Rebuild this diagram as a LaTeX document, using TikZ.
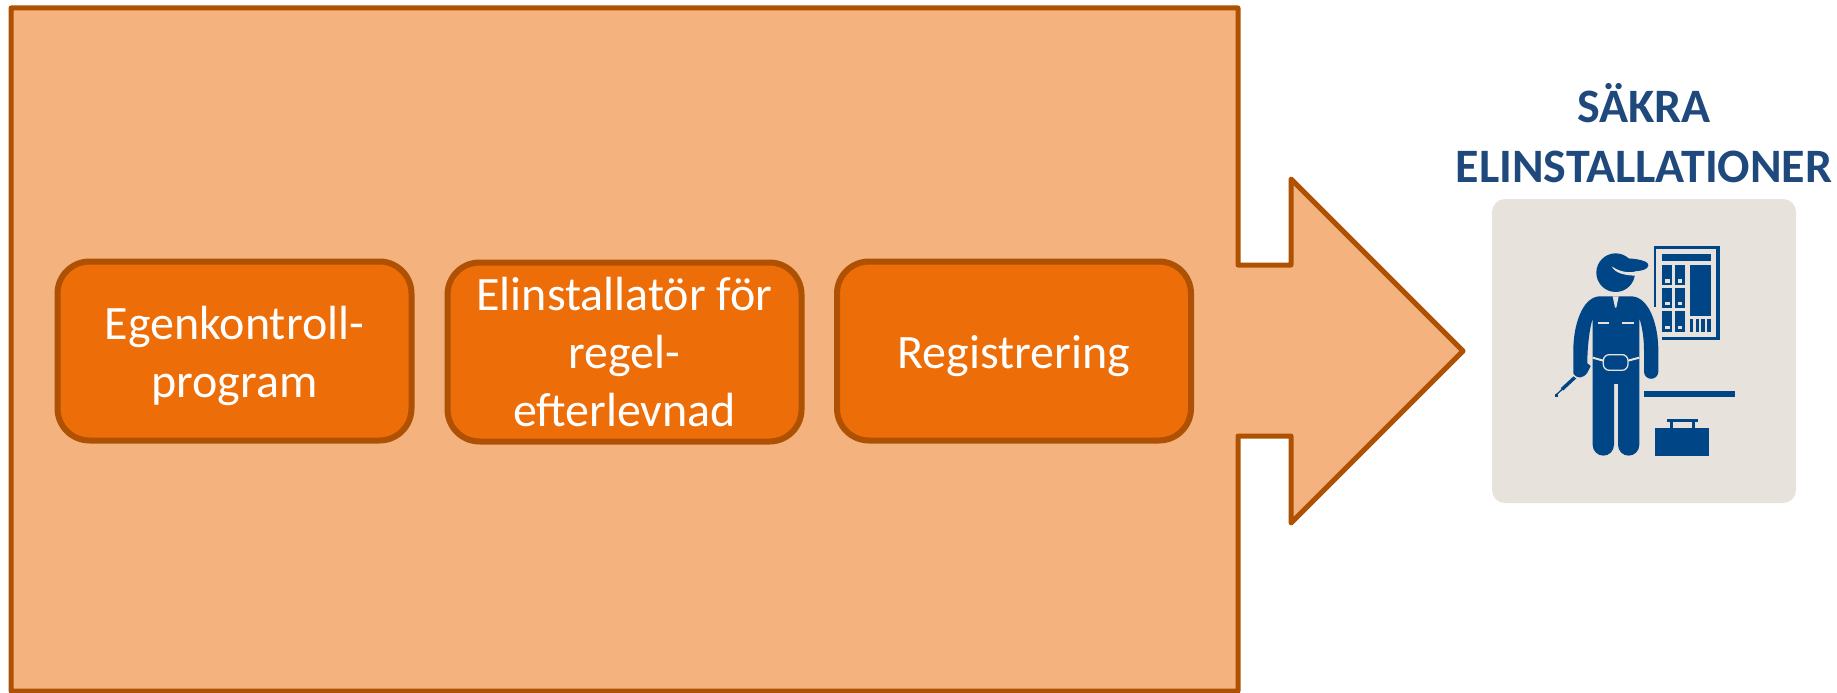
\documentclass[tikz,border=0pt]{standalone}
\usepackage{fontspec}
\setmainfont{Carlito}
\usetikzlibrary{shapes,arrows}

\definecolor{peach}{HTML}{F4B37E}
\definecolor{rust}{HTML}{AE5103}
\definecolor{flame}{HTML}{ED6D08}
\definecolor{card}{HTML}{E7E2DC}
\definecolor{navy}{HTML}{004586}
\definecolor{titleblue}{HTML}{1F497D}

% taller first line, sets the text a little lower in its box
\newcommand{\lowerline}{\rule{0pt}{44pt}}

\tikzset{
  stepbox/.style={draw=rust,fill=flame,line width=6pt,rounded corners=32pt,
    minimum width=354pt,minimum height=179pt,inner sep=0pt,text=white,align=center,
    font=\fontsize{48}{58}\selectfont},
  worker/.style={fill=navy,draw=none},
  gap/.style={fill=card,draw=none}
}

\begin{document}
\begin{tikzpicture}[x=1pt,y=-1pt]
\useasboundingbox (0,0) rectangle (1837,693);

\filldraw[fill=peach,draw=rust,line width=5pt,line join=round]
  (11,8) -- (1238,8) -- (1238,265) -- (1291,265) -- (1291,179) -- (1463,351)
  -- (1291,523) -- (1291,436) -- (1238,436) -- (1238,691) -- (11,691) -- cycle;

\node[stepbox] (egen) at (234.5,351) {\lowerline Egenkontroll-\\program};
\node[stepbox] (regel) at (624.5,352) {Elinstallatör för\\regel-\\efterlevnad};
\node[stepbox] (reg) at (1014,351) {\lowerline Registrering};

\node[text=titleblue,align=center,font=\fontsize{48}{60}\selectfont\bfseries] (title) at (1644,133)
  {SÄKRA\\ELINSTALLATIONER};

\fill[card,rounded corners=13pt] (1492,199) rectangle (1796,503);

% worker, in units of a third of a pixel
\begin{scope}[shift={(1480,190)},x=0.3333pt,y=-0.3333pt]
% panel
\fill[worker] (521,168) rectangle (719,450);
\fill[gap] (529,178) rectangle (709,440);
\fill[gap] (521,350) rectangle (547,450);
\fill[worker] (547,193) rectangle (693,214);
\fill[worker] (629,224) rectangle (693,377);
\foreach \x in {547,585}
  \foreach \y/\h in {224/285,293/353,362/425} {
    \fill[worker] (\x,\y) rectangle (\x+30,\h);
    \fill[gap] (\x+8,\h-17) rectangle (\x+22,\h-7);
  }
\foreach \x in {629,647,664,682}
  \fill[worker] (\x,386) rectangle (\x+10,425);

% head and cap
\fill[worker] (407,248) circle (58);
\fill[worker] (430,205) .. controls (470,205) and (505,212) .. (505,226)
  .. controls (505,238) and (485,243) .. (462,244) -- (430,230) -- cycle;
\fill[gap] (395,229) .. controls (415,243) and (440,250) .. (465,245)
  -- (465,257) .. controls (435,256) and (405,250) .. (395,229) -- cycle;

% screwdriver
\draw[navy,line width=1.3pt] (300,548) -- (226,617);
\draw[navy,line width=3.4pt] (300,548) -- (246,598);
\fill[worker] (224,612) rectangle (234,622);

% body
\path[fill=navy,preaction={draw=card,line width=3pt}]
  (358,319) -- (455,319) .. controls (510,322) and (535,410) .. (535,480)
  -- (535,545) arc[start angle=0,end angle=180,radius=21.5]
  -- (492,480) .. controls (492,440) and (485,405) .. (478,385)
  -- (478,765) arc[start angle=0,end angle=180,radius=32]
  -- (414,582) -- (402,582) -- (402,765)
  arc[start angle=0,end angle=180,radius=32]
  -- (338,385) .. controls (328,420) and (322,470) .. (322,520)
  -- (332,528) -- (322,548) .. controls (310,566) and (290,568) .. (280,550)
  -- (280,480) .. controls (280,410) and (305,322) .. (358,319) -- cycle;

% collar, pockets, belt
\fill[gap] (398,319) -- (416,319) -- (409,353) -- (405,353) -- cycle;
\fill[gap] (353,396) rectangle (388,403);
\fill[gap] (426,396) rectangle (461,403);
\draw[card,line width=2pt] (338,503) -- (370,512);
\draw[card,line width=2pt] (444,512) -- (478,503);
\filldraw[fill=navy,draw=card,line width=1.3pt,rounded corners=6pt] (370,494) rectangle (444,541);

% shelf and toolbox
\fill[worker] (492,604) rectangle (764,620);
\fill[worker] (526,715) rectangle (687,797);
\fill[worker] (561,688) rectangle (653,695);
\fill[worker] (570,695) rectangle (578,715);
\fill[worker] (637,695) rectangle (645,715);
\end{scope}
\end{tikzpicture}
\end{document}
